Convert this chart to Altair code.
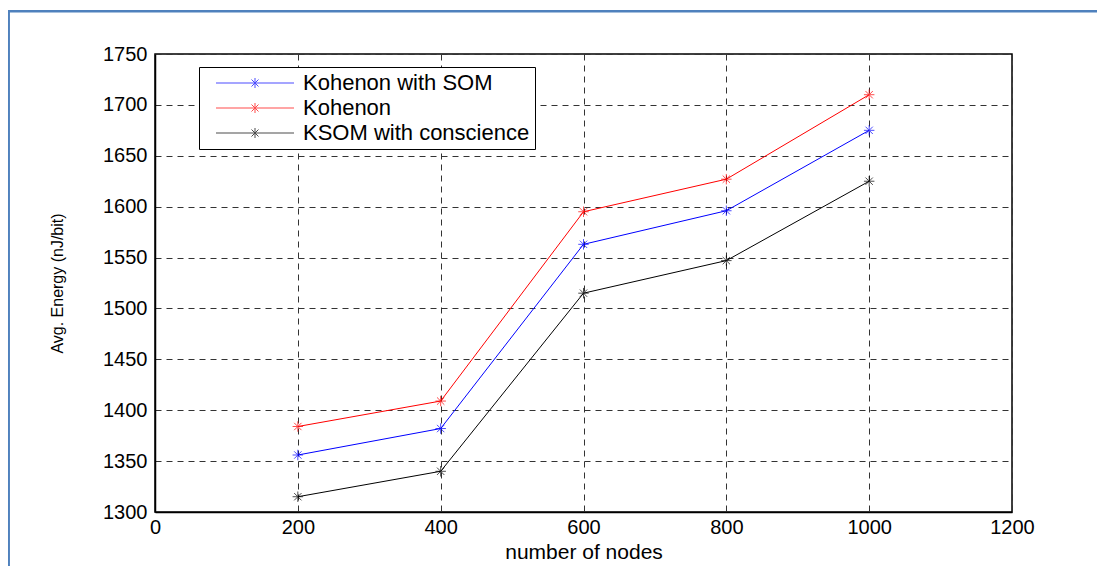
import altair as alt
import pandas as pd

# ---- data ----
nodes = [200, 400, 600, 800, 1000]
kohenon_som = [1356, 1382, 1563, 1596, 1675]
kohenon = [1384, 1409, 1595, 1627, 1710]
ksom_conscience = [1315, 1340, 1515, 1547, 1625]
series_names = ["Kohenon with SOM", "Kohenon", "KSOM with conscience"]
series_colors = ["#0000ff", "#ff0000", "#000000"]
x_ticks = [0, 200, 400, 600, 800, 1000, 1200]
y_ticks = [1300, 1350, 1400, 1450, 1500, 1550, 1600, 1650, 1700, 1750]

rows = []
for name, vals in zip(series_names, [kohenon_som, kohenon, ksom_conscience]):
    for n, v in zip(nodes, vals):
        rows.append({"nodes": n, "energy": v, "series": name})
df = pd.DataFrame(rows)

W, H = 857, 458
FONT = "Liberation Sans"

asterisk = "M0,-1L0,1M-1,0L1,0M-0.7,-0.7L0.7,0.7M-0.7,0.7L0.7,-0.7"
legend_symbol = ("M0.1,0L7.9,0M4,-0.5L4,0.5M3.65,-0.35L4.35,0.35"
                 "M3.65,0.35L4.35,-0.35")

base = alt.Chart(df).encode(
    x=alt.X("nodes:Q", title="number of nodes",
            scale=alt.Scale(domain=[0, 1200], nice=False),
            axis=alt.Axis(values=x_ticks, format="d", grid=True,
                          gridDash=[6, 5], gridColor="#333333", gridWidth=1,
                          ticks=False, tickSize=0, labelPadding=5,
                          labelFont=FONT, labelFontSize=20, labelColor="black",
                          labelFlush=False,
                          domainColor="black", domainWidth=1.5,
                          titleFont=FONT, titleFontSize=21, titleFontWeight="normal",
                          titleColor="black", titleY=40, titleBaseline="middle")),
    y=alt.Y("energy:Q", title="Avg. Energy (nJ/bit)",
            scale=alt.Scale(domain=[1300, 1750], nice=False, zero=False),
            axis=alt.Axis(values=y_ticks, format="d", grid=True,
                          gridDash=[6, 5], gridColor="#333333", gridWidth=1,
                          ticks=False, tickSize=0, labelPadding=8,
                          labelFont=FONT, labelFontSize=20, labelColor="black",
                          labelFlush=False,
                          domainColor="black", domainWidth=1.5,
                          titleFont=FONT, titleFontSize=16, titleFontWeight="normal",
                          titleColor="black", titleX=-98, titleY=229,
                          titleAlign="center", titleBaseline="middle")),
    color=alt.Color("series:N",
                    scale=alt.Scale(domain=series_names, range=series_colors),
                    legend=alt.Legend(title=None, orient="none", legendX=44, legendY=13,
                                      direction="vertical",
                                      symbolType=legend_symbol, symbolSize=400,
                                      symbolStrokeWidth=1,
                                      labelOffset=77, padding=5, rowPadding=3,
                                      labelFont=FONT, labelFontSize=22,
                                      labelColor="black", labelBaseline="middle",
                                      labelLimit=600,
                                      labelExpr="datum.label + '\u2003\u2003\u2003\u2003'",
                                      strokeColor="black", fillColor="white")),
)

lines = base.mark_line(strokeWidth=1).encode(order="nodes:Q")
points = base.mark_point(shape=asterisk, size=110, filled=False, strokeWidth=1)

frame_data = alt.Data(values=[{"k": 0}])
frame_left = alt.Chart(frame_data).mark_rule(
    color="#4f81bd", strokeWidth=2.5, strokeCap="square").encode(
    x=alt.value(-146.3), y=alt.value(-42.7), y2=alt.value(H + 60))
frame_top = alt.Chart(frame_data).mark_rule(
    color="#4f81bd", strokeWidth=2.5, strokeCap="square").encode(
    x=alt.value(-146.3), x2=alt.value(W + 90), y=alt.value(-42.7))

chart = alt.layer(frame_left, frame_top, lines, points).properties(
    width=W, height=H,
    autosize=alt.AutoSizeParams(type="none"),
    padding={"left": 147, "top": 46, "right": 85, "bottom": 54},
    background="white",
).configure_view(stroke="black", strokeWidth=1.5)

chart.save("out.html", embed_options={"renderer": "svg", "actions": False})
